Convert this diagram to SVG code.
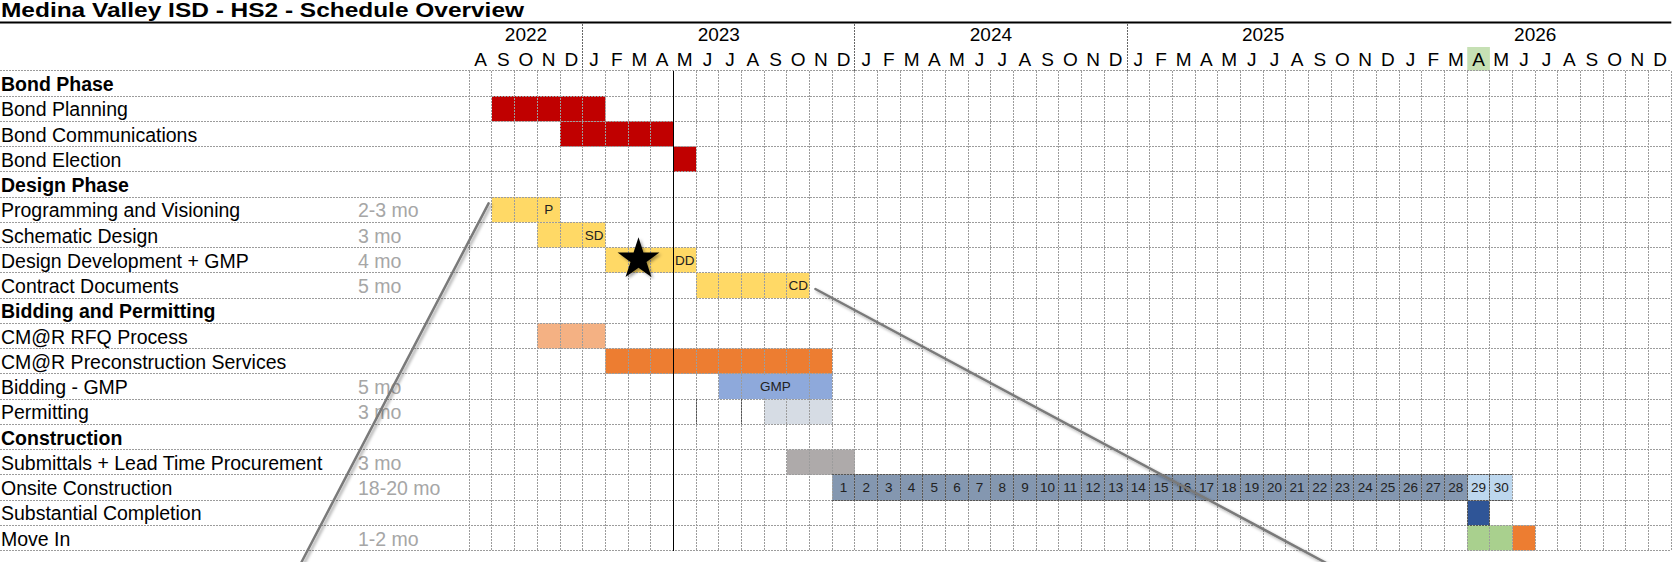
<svg xmlns="http://www.w3.org/2000/svg" width="1677" height="562" viewBox="0 0 1677 562">
<defs>
<style>
.lbl{font-family:"Liberation Sans",Arial,sans-serif;font-size:19.5px;fill:#000}
.hdr{font-family:"Liberation Sans",Arial,sans-serif;font-size:19.5px;font-weight:bold;fill:#000}
.dur{font-family:"Liberation Sans",Arial,sans-serif;font-size:19.5px;fill:#a6a6a6}
.yr{font-family:"Liberation Sans",Arial,sans-serif;font-size:19px;fill:#000;text-anchor:middle}
.mo{font-family:"Liberation Sans",Arial,sans-serif;font-size:19px;fill:#000;text-anchor:middle}
.cell{font-family:"Liberation Sans",Arial,sans-serif;font-size:13.5px;fill:#222;text-anchor:middle}
.grid{fill:none;stroke:#9c9c9c;stroke-width:1;stroke-dasharray:2 1}
.dk{fill:none;stroke:#555;stroke-width:1;stroke-dasharray:2 1}
.red{fill:#c00000}.yel{fill:#ffd966}.lor{fill:#f4b183}.org{fill:#ed7d31}.blu{fill:#8ea9db}.gbl{fill:#d6dce4}.gry{fill:#aeaaaa}.sla{fill:#8497b0}.lbl2{fill:#bdd7ee}.dbl{fill:#2f5597}.grn{fill:#a9d08e}
.call{stroke:#7a7a7a;stroke-width:2.5;fill:none;stroke-linecap:round}
</style>
<filter id="sh" x="-20%" y="-20%" width="140%" height="140%">
<feDropShadow dx="2" dy="2" stdDeviation="1.5" flood-color="#000" flood-opacity="0.35"/>
</filter>
</defs>
<rect width="1677" height="562" fill="#fff"/>

<g id="title">
<text x="1" y="17" font-family="'Liberation Sans',Arial,sans-serif" font-size="21" font-weight="bold" textLength="523" lengthAdjust="spacingAndGlyphs">Medina Valley ISD - HS2 - Schedule Overview</text>
<line x1="0" y1="22.5" x2="1671.3" y2="22.5" stroke="#000" stroke-width="2"/>
</g>

<g id="header">
<rect x="1467.22" y="47" width="22.68" height="23.8" fill="#c6e0b4"/>
<path d="M582.7 23.5V70.8M854.86 23.5V70.8M1127.02 23.5V70.8" stroke="#666" stroke-width="1" stroke-dasharray="2 1" fill="none" shape-rendering="crispEdges"/>
<text class="yr" x="526" y="40.6">2022</text>
<text class="yr" x="718.78" y="40.6">2023</text>
<text class="yr" x="990.94" y="40.6">2024</text>
<text class="yr" x="1263.1" y="40.6">2025</text>
<text class="yr" x="1535.26" y="40.6">2026</text>
<g>
<text class="mo" x="480.64" y="66.3">A</text><text class="mo" x="503.32" y="66.3">S</text><text class="mo" x="526" y="66.3">O</text><text class="mo" x="548.68" y="66.3">N</text><text class="mo" x="571.36" y="66.3">D</text>
<text class="mo" x="594.04" y="66.3">J</text><text class="mo" x="616.72" y="66.3">F</text><text class="mo" x="639.4" y="66.3">M</text><text class="mo" x="662.08" y="66.3">A</text><text class="mo" x="684.76" y="66.3">M</text><text class="mo" x="707.44" y="66.3">J</text><text class="mo" x="730.12" y="66.3">J</text><text class="mo" x="752.8" y="66.3">A</text><text class="mo" x="775.48" y="66.3">S</text><text class="mo" x="798.16" y="66.3">O</text><text class="mo" x="820.84" y="66.3">N</text><text class="mo" x="843.52" y="66.3">D</text>
<text class="mo" x="866.2" y="66.3">J</text><text class="mo" x="888.88" y="66.3">F</text><text class="mo" x="911.56" y="66.3">M</text><text class="mo" x="934.24" y="66.3">A</text><text class="mo" x="956.92" y="66.3">M</text><text class="mo" x="979.6" y="66.3">J</text><text class="mo" x="1002.28" y="66.3">J</text><text class="mo" x="1024.96" y="66.3">A</text><text class="mo" x="1047.64" y="66.3">S</text><text class="mo" x="1070.32" y="66.3">O</text><text class="mo" x="1093" y="66.3">N</text><text class="mo" x="1115.68" y="66.3">D</text>
<text class="mo" x="1138.36" y="66.3">J</text><text class="mo" x="1161.04" y="66.3">F</text><text class="mo" x="1183.72" y="66.3">M</text><text class="mo" x="1206.4" y="66.3">A</text><text class="mo" x="1229.08" y="66.3">M</text><text class="mo" x="1251.76" y="66.3">J</text><text class="mo" x="1274.44" y="66.3">J</text><text class="mo" x="1297.12" y="66.3">A</text><text class="mo" x="1319.8" y="66.3">S</text><text class="mo" x="1342.48" y="66.3">O</text><text class="mo" x="1365.16" y="66.3">N</text><text class="mo" x="1387.84" y="66.3">D</text>
<text class="mo" x="1410.52" y="66.3">J</text><text class="mo" x="1433.2" y="66.3">F</text><text class="mo" x="1455.88" y="66.3">M</text><text class="mo" x="1478.56" y="66.3">A</text><text class="mo" x="1501.24" y="66.3">M</text><text class="mo" x="1523.92" y="66.3">J</text><text class="mo" x="1546.6" y="66.3">J</text><text class="mo" x="1569.28" y="66.3">A</text><text class="mo" x="1591.96" y="66.3">S</text><text class="mo" x="1614.64" y="66.3">O</text><text class="mo" x="1637.32" y="66.3">N</text><text class="mo" x="1660" y="66.3">D</text>
</g>
</g>

<g id="bars">
<rect class="red" x="491.98" y="96.05" width="113.4" height="25.25"/>
<rect class="red" x="560.02" y="121.3" width="113.4" height="25.25"/>
<rect class="red" x="673.42" y="146.55" width="22.68" height="25.25"/>
<rect class="yel" x="491.98" y="197.05" width="68.04" height="25.25"/>
<rect class="yel" x="537.34" y="222.3" width="68.04" height="25.25"/>
<rect class="yel" x="605.38" y="247.55" width="90.72" height="25.25"/>
<rect class="yel" x="696.1" y="272.8" width="113.4" height="25.25"/>
<rect class="lor" x="537.34" y="323.3" width="68.04" height="25.25"/>
<rect class="org" x="605.38" y="348.55" width="226.8" height="25.25"/>
<rect class="blu" x="718.78" y="373.8" width="113.4" height="25.25"/>
<rect class="gbl" x="764.14" y="399.05" width="68.04" height="25.25"/>
<rect class="gry" x="786.82" y="449.55" width="68.04" height="25.25"/>
<rect class="sla" x="832.18" y="474.8" width="635.04" height="25.25"/>
<rect class="lbl2" x="1467.22" y="474.8" width="45.36" height="25.25"/>
<rect class="dbl" x="1467.22" y="500.05" width="22.68" height="25.25"/>
<rect class="grn" x="1467.22" y="525.3" width="45.36" height="25.25"/>
<rect class="org" x="1512.58" y="525.3" width="22.68" height="25.25"/>
</g>

<g id="grid" shape-rendering="crispEdges">
<path class="grid" d="M0 70.8H1671.34M0 96.05H1671.34M0 121.3H1671.34M0 146.55H1671.34M0 171.8H1671.34M0 197.05H1671.34M0 222.3H1671.34M0 247.55H1671.34M0 272.8H1671.34M0 298.05H1671.34M0 323.3H1671.34M0 348.55H1671.34M0 373.8H1671.34M0 399.05H1671.34M0 424.3H1671.34M0 449.55H1671.34M0 474.8H1671.34M0 500.05H1671.34M0 525.3H1671.34M0 550.55H1671.34"/>
<path class="grid" d="M469.3 70.8V550.6M491.98 70.8V550.6M514.66 70.8V550.6M537.34 70.8V550.6M560.02 70.8V550.6M582.7 70.8V550.6M605.38 70.8V550.6M628.06 70.8V550.6M650.74 70.8V550.6M696.1 70.8V550.6M718.78 70.8V550.6M741.46 70.8V550.6M764.14 70.8V550.6M786.82 70.8V550.6M809.5 70.8V550.6M832.18 70.8V550.6M854.86 70.8V550.6M877.54 70.8V550.6M900.22 70.8V550.6M922.9 70.8V550.6M945.58 70.8V550.6M968.26 70.8V550.6M990.94 70.8V550.6M1013.62 70.8V550.6M1036.3 70.8V550.6M1058.98 70.8V550.6M1081.66 70.8V550.6M1104.34 70.8V550.6M1127.02 70.8V550.6M1149.7 70.8V550.6M1172.38 70.8V550.6M1195.06 70.8V550.6M1217.74 70.8V550.6M1240.42 70.8V550.6M1263.1 70.8V550.6M1285.78 70.8V550.6M1308.46 70.8V550.6M1331.14 70.8V550.6M1353.82 70.8V550.6M1376.5 70.8V550.6M1399.18 70.8V550.6M1421.86 70.8V550.6M1444.54 70.8V550.6M1467.22 70.8V550.6M1489.9 70.8V550.6M1512.58 70.8V550.6M1535.26 70.8V550.6M1557.94 70.8V550.6M1580.62 70.8V550.6M1603.3 70.8V550.6M1625.98 70.8V550.6M1648.66 70.8V550.6M1671.34 70.8V550.6"/>
<path class="dk" d="M696.1 399.05V424.3M741.46 399.05V424.3M832.18 474.8H1512.58M832.18 500.05H1512.58M854.86 474.8V500.05M877.54 474.8V500.05M900.22 474.8V500.05M922.9 474.8V500.05M945.58 474.8V500.05M968.26 474.8V500.05M990.94 474.8V500.05M1013.62 474.8V500.05M1036.3 474.8V500.05M1058.98 474.8V500.05M1081.66 474.8V500.05M1104.34 474.8V500.05M1127.02 474.8V500.05M1149.7 474.8V500.05M1172.38 474.8V500.05M1195.06 474.8V500.05M1217.74 474.8V500.05M1240.42 474.8V500.05M1263.1 474.8V500.05M1285.78 474.8V500.05M1308.46 474.8V500.05M1331.14 474.8V500.05M1353.82 474.8V500.05M1376.5 474.8V500.05M1399.18 474.8V500.05M1421.86 474.8V500.05M1444.54 474.8V500.05M1467.22 474.8V525.3M1489.9 474.8V525.3M1467.22 525.3H1489.9"/>
<rect class="blu" x="742.5" y="374.8" width="66" height="23.25"/>
<line x1="673.42" y1="70.8" x2="673.42" y2="550.6" stroke="#000" stroke-width="1.5"/>
</g>

<g id="cell-labels">
<text class="cell" x="548.68" y="214.3">P</text>
<text class="cell" x="594.04" y="239.6">SD</text>
<text class="cell" x="684.76" y="264.8">DD</text>
<text class="cell" x="798.16" y="290.1">CD</text>
<text class="cell" x="775.48" y="391.1">GMP</text>
<text class="cell" x="843.52" y="492.1">1</text><text class="cell" x="866.2" y="492.1">2</text><text class="cell" x="888.88" y="492.1">3</text><text class="cell" x="911.56" y="492.1">4</text><text class="cell" x="934.24" y="492.1">5</text><text class="cell" x="956.92" y="492.1">6</text><text class="cell" x="979.6" y="492.1">7</text><text class="cell" x="1002.28" y="492.1">8</text><text class="cell" x="1024.96" y="492.1">9</text><text class="cell" x="1047.64" y="492.1">10</text><text class="cell" x="1070.32" y="492.1">11</text><text class="cell" x="1093" y="492.1">12</text><text class="cell" x="1115.68" y="492.1">13</text><text class="cell" x="1138.36" y="492.1">14</text><text class="cell" x="1161.04" y="492.1">15</text><text class="cell" x="1183.72" y="492.1">16</text><text class="cell" x="1206.4" y="492.1">17</text><text class="cell" x="1229.08" y="492.1">18</text><text class="cell" x="1251.76" y="492.1">19</text><text class="cell" x="1274.44" y="492.1">20</text><text class="cell" x="1297.12" y="492.1">21</text><text class="cell" x="1319.8" y="492.1">22</text><text class="cell" x="1342.48" y="492.1">23</text><text class="cell" x="1365.16" y="492.1">24</text><text class="cell" x="1387.84" y="492.1">25</text><text class="cell" x="1410.52" y="492.1">26</text><text class="cell" x="1433.2" y="492.1">27</text><text class="cell" x="1455.88" y="492.1">28</text><text class="cell" x="1478.56" y="492.1">29</text><text class="cell" x="1501.24" y="492.1">30</text>
</g>

<g id="row-labels">
<text class="hdr" x="1" y="91.1">Bond Phase</text>
<text class="lbl" x="1" y="116.35">Bond Planning</text>
<text class="lbl" x="1" y="141.6">Bond Communications</text>
<text class="lbl" x="1" y="166.85">Bond Election</text>
<text class="hdr" x="1" y="192.1">Design Phase</text>
<text class="lbl" x="1" y="217.35">Programming and Visioning</text>
<text class="lbl" x="1" y="242.6">Schematic Design</text>
<text class="lbl" x="1" y="267.85">Design Development + GMP</text>
<text class="lbl" x="1" y="293.1">Contract Documents</text>
<text class="hdr" x="1" y="318.35">Bidding and Permitting</text>
<text class="lbl" x="1" y="343.6">CM@R RFQ Process</text>
<text class="lbl" x="1" y="368.85">CM@R Preconstruction Services</text>
<text class="lbl" x="1" y="394.1">Bidding - GMP</text>
<text class="lbl" x="1" y="419.35">Permitting</text>
<text class="hdr" x="1" y="444.6">Construction</text>
<text class="lbl" x="1" y="469.85">Submittals + Lead Time Procurement</text>
<text class="lbl" x="1" y="495.1">Onsite Construction</text>
<text class="lbl" x="1" y="520.35">Substantial Completion</text>
<text class="lbl" x="1" y="545.6">Move In</text>
</g>

<g id="durations">
<text class="dur" x="358" y="217.35">2-3 mo</text>
<text class="dur" x="358" y="242.6">3 mo</text>
<text class="dur" x="358" y="267.85">4 mo</text>
<text class="dur" x="358" y="293.1">5 mo</text>
<text class="dur" x="358" y="394.1">5 mo</text>
<text class="dur" x="358" y="419.35">3 mo</text>
<text class="dur" x="358" y="469.85">3 mo</text>
<text class="dur" x="358" y="495.1">18-20 mo</text>
<text class="dur" x="358" y="545.6">1-2 mo</text>
</g>

<g id="star">
<polygon points="638.5,237.3 643.44,252.5 659.42,252.5 646.49,261.9 651.43,277.1 638.5,267.7 625.57,277.1 630.51,261.9 617.58,252.5 633.56,252.5" fill="#000" filter="url(#sh)"/>
</g>

<g id="connectors" filter="url(#sh)">
<line class="call" x1="488.6" y1="203.3" x2="300" y2="565"/>
<line class="call" x1="815.4" y1="289" x2="1330" y2="565"/>
</g>
</svg>
